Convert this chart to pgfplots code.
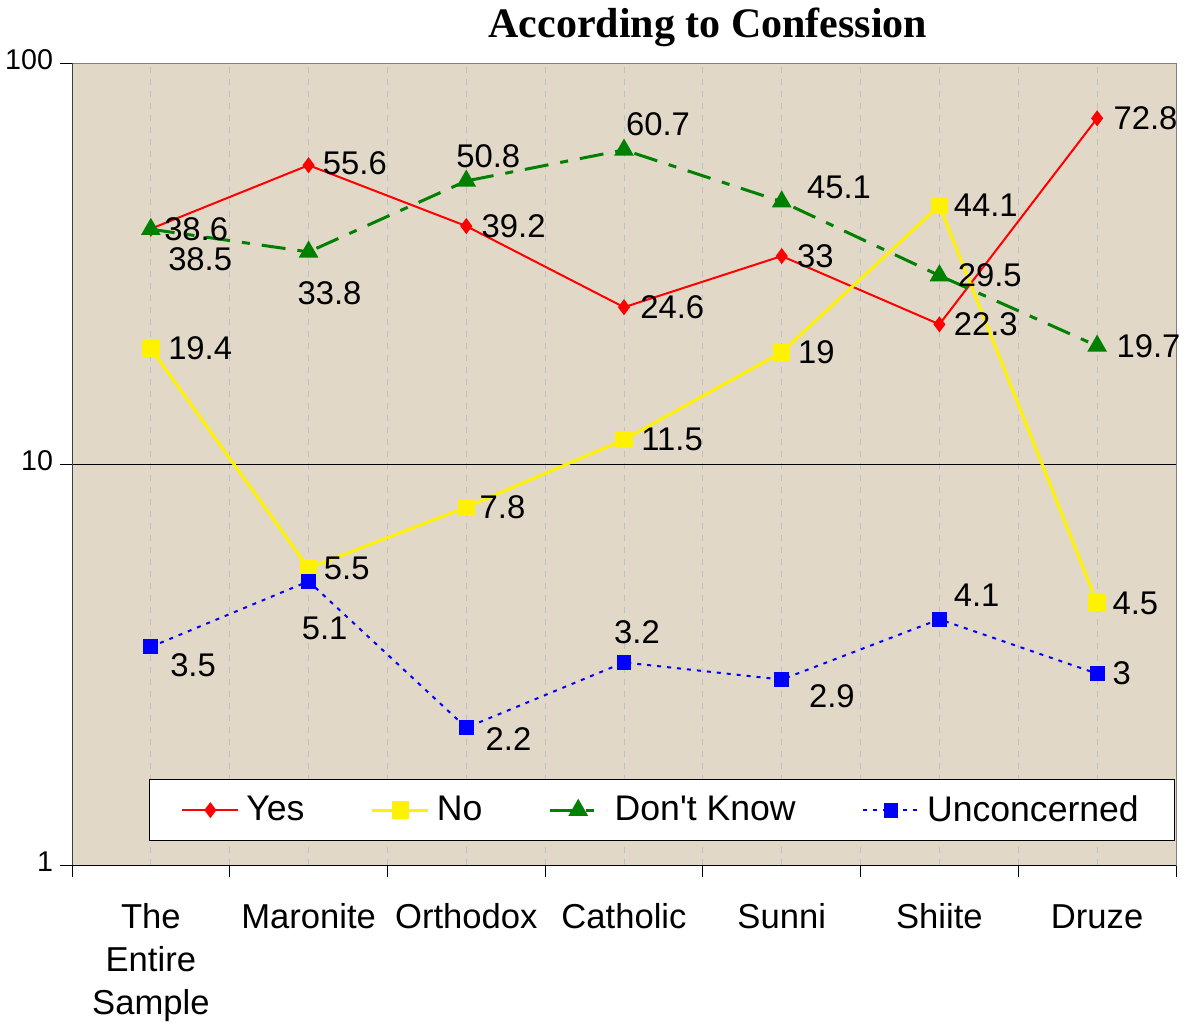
\documentclass[border=0pt]{standalone}
\usepackage{pgfplots}
\pgfplotsset{compat=1.18}
\usepackage{fontspec}
\setmainfont{Liberation Sans}
\newfontfamily\titlefont{Liberation Serif}
\definecolor{bg}{RGB}{225,216,200}
\definecolor{gridc}{RGB}{188,192,202}
\definecolor{framec}{RGB}{128,128,128}
\definecolor{dkgreen}{RGB}{0,128,0}
\tikzset{lbl/.style={font=\fontsize{16.4}{18}\selectfont, inner sep=0pt}}
\begin{document}
\begin{tikzpicture}
\path[use as bounding box] (-36pt,-83pt) rectangle (560pt,432.5pt);
\begin{axis}[
  scale only axis, width=552pt, height=401pt,
  at={(0,0)}, anchor=south west,
  ymode=log, ymin=1, ymax=100,
  xmin=-0.5, xmax=6.5,
  clip=false,
  axis background/.style={fill=bg},
  axis line style={framec},
  tick align=outside, xtick pos=bottom, ytick pos=left,
  major tick length=6pt,
  tick style={black, thin},
  yminorticks=false, xminorticks=false,
  xtick={-0.5,0.5,...,6.5}, xticklabels={},
  xmajorgrids, major grid style={gridc, dashed, thin},
  extra x ticks={0,1,2,3,4,5,6},
  extra x tick labels={{The\\Entire\\Sample},Maronite,Orthodox,Catholic,Sunni,Shiite,Druze},
  extra x tick style={major tick length=0pt, grid=major},
  typeset ticklabels with strut,
  xticklabel style={font=\fontsize{17.3}{21.5}\selectfont, align=center, yshift=-13pt},
  ytick={1,10,100}, yticklabels={1,10,100},
  yticklabel style={font=\fontsize{14.3}{16}\selectfont},
  extra y ticks={10}, extra y tick labels={},
  extra y tick style={grid=major, major grid style={black, solid, thin}},
  legend columns=4,
  legend style={at={(rel axis cs:0.0697,0.03)}, anchor=south west, draw=black, fill=white,
    font=\fontsize{17.8}{20}\selectfont, inner xsep=16pt, inner ysep=6pt,
    /tikz/every odd column/.append style={column sep=1.5pt},
    /tikz/every even column/.append style={column sep=31.2pt}},
  legend image code/.code={\draw[mark repeat=2,mark phase=2] plot coordinates {(0pt,0pt) (14pt,0pt) (28pt,0pt)};},
]
\addplot[red, line width=1pt, mark=diamond*, mark size=3.2pt, mark options={solid}]
  coordinates {(0,38.6) (1,55.6) (2,39.2) (3,24.6) (4,33) (5,22.3) (6,72.8)};
\addlegendentry{Yes}
\addplot[yellow, line width=1.5pt, mark=square*, mark size=3.6pt, mark options={solid}]
  coordinates {(0,19.4) (1,5.5) (2,7.8) (3,11.5) (4,19) (5,44.1) (6,4.5)};
\addlegendentry{No}
\addplot[dkgreen, line width=1.5pt, dash pattern=on 12pt off 6pt on 4pt off 6pt, mark=triangle*, mark size=4.2pt, mark options={solid}]
  coordinates {(0,38.5) (1,33.8) (2,50.8) (3,60.7) (4,45.1) (5,29.5) (6,19.7)};
\addlegendentry{Don\textquotesingle t Know}
\addplot[blue, line width=1pt, dash pattern=on 2pt off 3pt, mark=square*, mark size=3.2pt, mark options={solid}]
  coordinates {(0,3.5) (1,5.1) (2,2.2) (3,3.2) (4,2.9) (5,4.1) (6,3)};
\addlegendentry{Unconcerned}
% Yes labels
\node[lbl, anchor=west, xshift=6.5pt] at (axis cs:0,38.6) {38.6};
\node[lbl, anchor=west, xshift=7pt, yshift=1pt] at (axis cs:1,55.6) {55.6};
\node[lbl, anchor=west, xshift=7.5pt] at (axis cs:2,39.2) {39.2};
\node[lbl, anchor=west, xshift=8pt] at (axis cs:3,24.6) {24.6};
\node[lbl, anchor=west, xshift=7.5pt] at (axis cs:4,33) {33};
\node[lbl, anchor=west, xshift=7pt] at (axis cs:5,22.3) {22.3};
\node[lbl, anchor=west, xshift=8pt] at (axis cs:6,72.8) {72.8};
% No labels
\node[lbl, anchor=west, xshift=8.5pt] at (axis cs:0,19.4) {19.4};
\node[lbl, anchor=west, xshift=7.5pt] at (axis cs:1,5.5) {5.5};
\node[lbl, anchor=west, xshift=6.5pt] at (axis cs:2,7.8) {7.8};
\node[lbl, anchor=west, xshift=8.5pt] at (axis cs:3,11.5) {11.5};
\node[lbl, anchor=west, xshift=8pt] at (axis cs:4,19) {19};
\node[lbl, anchor=west, xshift=7pt] at (axis cs:5,44.1) {44.1};
\node[lbl, anchor=west, xshift=7.5pt] at (axis cs:6,4.5) {4.5};
% Don't Know labels
\node[lbl, anchor=west, xshift=8.5pt, yshift=-15pt] at (axis cs:0,38.5) {38.5};
\node[lbl, anchor=center, xshift=10.5pt, yshift=-20.5pt] at (axis cs:1,33.8) {33.8};
\node[lbl, anchor=center, xshift=11pt, yshift=12.5pt] at (axis cs:2,50.8) {50.8};
\node[lbl, anchor=center, xshift=17pt, yshift=13pt] at (axis cs:3,60.7) {60.7};
\node[lbl, anchor=west, xshift=12.5pt, yshift=7pt] at (axis cs:4,45.1) {45.1};
\node[lbl, anchor=west, xshift=9pt] at (axis cs:5,29.5) {29.5};
\node[lbl, anchor=west, xshift=9.5pt] at (axis cs:6,19.7) {19.7};
% Unconcerned labels
\node[lbl, anchor=west, xshift=9.5pt, yshift=-9pt] at (axis cs:0,3.5) {3.5};
\node[lbl, anchor=center, xshift=8pt, yshift=-23.5pt] at (axis cs:1,5.1) {5.1};
\node[lbl, anchor=west, xshift=9.5pt, yshift=-5.5pt] at (axis cs:2,2.2) {2.2};
\node[lbl, anchor=center, xshift=6.5pt, yshift=15pt] at (axis cs:3,3.2) {3.2};
\node[lbl, anchor=west, xshift=13.5pt, yshift=-8.5pt] at (axis cs:4,2.9) {2.9};
\node[lbl, anchor=west, xshift=7pt, yshift=12pt] at (axis cs:5,4.1) {4.1};
\node[lbl, anchor=west, xshift=7.5pt] at (axis cs:6,3) {3};
% axis lines
\draw[black, thin] (rel axis cs:0,0) -- (rel axis cs:1,0);
\draw[black!75, thin] (rel axis cs:0,0) -- (rel axis cs:0,1);
% title
\node[font=\titlefont\bfseries\fontsize{21}{24}\selectfont, anchor=base, yshift=12.5pt] at (rel axis cs:0.576,1) {According to Confession};
\end{axis}
\end{tikzpicture}
\end{document}
